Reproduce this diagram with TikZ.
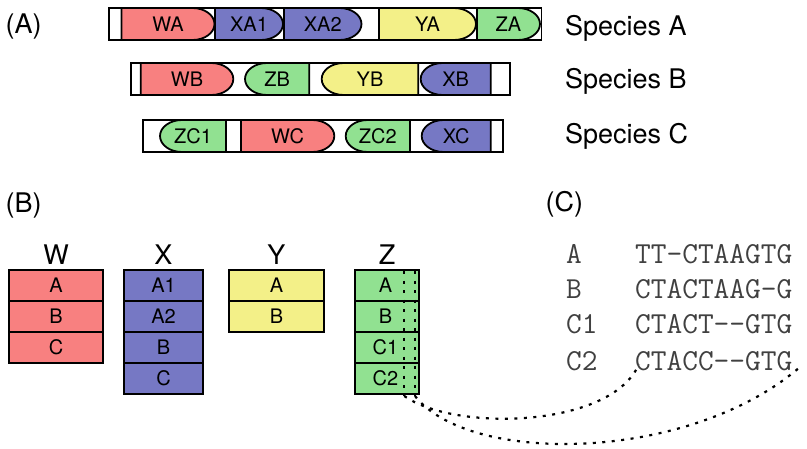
\documentclass[tikz,border=0pt]{standalone}
\usepackage{fontspec}
\setmainfont{TeX Gyre Heros}
\definecolor{cw}{RGB}{248,128,128}
\definecolor{cx}{RGB}{118,120,196}
\definecolor{cy}{RGB}{243,240,136}
\definecolor{cz}{RGB}{145,225,145}
\tikzset{
  bar/.style={draw=black, line width=1.8pt, fill=white},
  seg/.style={draw=black, line width=1.8pt},
  seglabel/.style={font=\fontsize{20}{24}\selectfont, inner sep=0pt},
  biglabel/.style={font=\fontsize{27}{32}\selectfont, inner sep=0pt},
  cell/.style={draw=black, line width=1.8pt, inner sep=0pt, minimum height=31pt, font=\fontsize{20}{24}\selectfont},
  seqtext/.style={font=\fontsize{30.5}{36}\ttfamily, inner sep=0pt, text=black!75},
  dotline/.style={line width=2.2pt, dash pattern=on 3pt off 6.5pt},
}
% right-rounded segment: name, colour, x1, x2, ytop, label
\newcommand\segR[6]{%
  \path[seg, fill=#2] (#3,#5) -- ({#4-22},#5)
    .. controls ({#4-9.85},#5) and (#4,{#5+16-8.84}) .. (#4,{#5+16})
    .. controls (#4,{#5+16+8.84}) and ({#4-9.85},{#5+32}) .. ({#4-22},{#5+32})
    -- (#3,{#5+32}) -- cycle;
  \node[seglabel] (#1) at ({(#3+#4)/2},{#5+16}) {#6};
}
% left-rounded segment
\newcommand\segL[6]{%
  \path[seg, fill=#2] (#4,#5) -- ({#3+22},#5)
    .. controls ({#3+9.85},#5) and (#3,{#5+16-8.84}) .. (#3,{#5+16})
    .. controls (#3,{#5+16+8.84}) and ({#3+9.85},{#5+32}) .. ({#3+22},{#5+32})
    -- (#4,{#5+32}) -- cycle;
  \node[seglabel] (#1) at ({(#3+#4)/2},{#5+16}) {#6};
}
\begin{document}
\begin{tikzpicture}[x=1pt, y=-1pt]
\useasboundingbox (0,0) rectangle (807,448);

% ---------- (A) ----------
\node[biglabel, anchor=base west] (labA) at (5.5,33.3) {(A)};

% Species A
\draw[bar] (109,8) rectangle (541.5,40);
\segR{WA}{cw}{121.5}{214.5}{8}{WA}
\segR{XA1}{cx}{215}{283}{8}{XA1}
\segR{XA2}{cx}{284}{361.5}{8}{XA2}
\segR{YA}{cy}{379}{476}{8}{YA}
\segR{ZA}{cz}{477}{540}{8}{ZA}
\node[biglabel, anchor=base west] (spA) at (565,35) {Species A};

% Species B
\draw[bar] (131,63) rectangle (510,95);
\segR{WB}{cw}{140.7}{233.3}{63}{WB}
\segL{ZB}{cz}{245}{309.3}{63}{ZB}
\segL{YB}{cy}{321.7}{418.3}{63}{YB}
\segL{XB}{cx}{420.7}{490.7}{63}{XB}
\node[biglabel, anchor=base west] (spB) at (565,88.3) {Species B};

% Species C
\draw[bar] (142.7,120) rectangle (503.3,152);
\segL{ZC1}{cz}{160}{226}{120}{ZC1}
\segR{WC}{cw}{241}{334.3}{120}{WC}
\segL{ZC2}{cz}{345.7}{410}{120}{ZC2}
\segL{XC}{cx}{421.7}{490.7}{120}{XC}
\node[biglabel, anchor=base west] (spC) at (565,143.3) {Species C};

% ---------- (B) ----------
\node[biglabel, anchor=base west] (labB) at (5.5,212) {(B)};

\node[biglabel] (hW) at (56,255) {W};
\node[cell, fill=cw, minimum width=93.4pt] (wA) at (56,285.5) {A};
\node[cell, fill=cw, minimum width=93.4pt] (wB) at (56,316.5) {B};
\node[cell, fill=cw, minimum width=93.4pt] (wC) at (56,347.5) {C};

\node[biglabel] (hX) at (163.5,255) {X};
\node[cell, fill=cx, minimum width=78.4pt] (xA1) at (163.5,285.5) {A1};
\node[cell, fill=cx, minimum width=78.4pt] (xA2) at (163.5,316.5) {A2};
\node[cell, fill=cx, minimum width=78.4pt] (xB) at (163.5,347.5) {B};
\node[cell, fill=cx, minimum width=78.4pt] (xC) at (163.5,378.5) {C};

\node[biglabel] (hY) at (276.5,255) {Y};
\node[cell, fill=cy, minimum width=95.6pt] (yA) at (276.5,285.5) {A};
\node[cell, fill=cy, minimum width=95.6pt] (yB) at (276.5,316.5) {B};

\node[biglabel] (hZ) at (387,255) {Z};
\node[cell, fill=cz, minimum width=64.3pt] (zA) at (387.15,285.5) {};
\node[cell, fill=cz, minimum width=64.3pt] (zB) at (387.15,316.5) {};
\node[cell, fill=cz, minimum width=64.3pt] (zC1) at (387.15,347.5) {};
\node[cell, fill=cz, minimum width=64.3pt] (zC2) at (387.15,378.5) {};
\node[seglabel] (tzA) at (385.5,285.5) {A};
\node[seglabel] (tzB) at (385.5,316.5) {B};
\node[seglabel] (tzC1) at (385.5,347.5) {C1};
\node[seglabel] (tzC2) at (385.5,378.5) {C2};

\coordinate (dlt) at (404.3,271);
\coordinate (dlb) at (404.3,396);
\coordinate (drt) at (415,271);
\coordinate (drb) at (415,396);
\draw[dotline] (dlt) -- (dlb);
\draw[dotline] (drt) -- (drb);

% ---------- (C) ----------
\node[biglabel, anchor=base west] (labC) at (545.5,211.7) {(C)};

\node[seqtext, anchor=base west] (nA) at (566,263.3) {A};
\node[seqtext, anchor=base west] (nB) at (566,298.3) {B};
\node[seqtext, anchor=base west] (nC1) at (566,333.3) {C1};
\node[seqtext, anchor=base west] (nC2) at (566,370) {C2};
\node[seqtext, anchor=base west] (sA) at (635,263.3) {TT-CTAAGTG};
\node[seqtext, anchor=base west] (sB) at (635,298.3) {CTACTAAG-G};
\node[seqtext, anchor=base west] (sC1) at (635,333.3) {CTACT-{}-GTG};
\node[seqtext, anchor=base west] (sC2) at (635,370) {CTACC-{}-GTG};

\coordinate (e1) at (639,364);
\coordinate (e2) at (800,367);
\draw[dotline] (dlb) .. controls (455,432) and (612,428) .. (e1);
\draw[dotline] (drb) .. controls (470,466) and (690,462) .. (e2);
\end{tikzpicture}
\end{document}
